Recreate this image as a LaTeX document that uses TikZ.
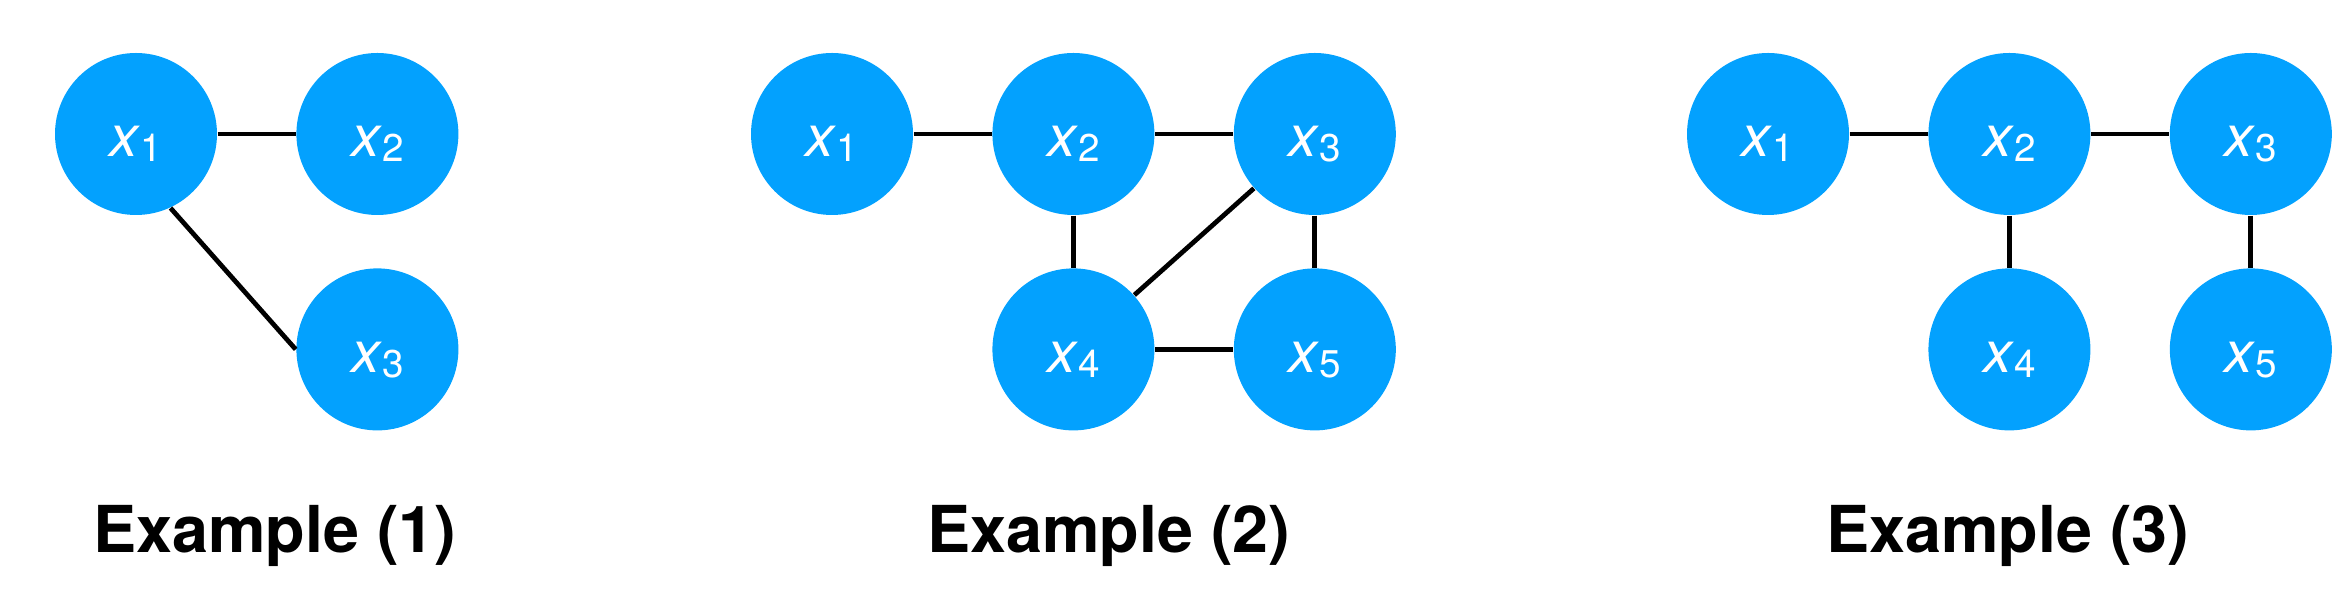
\documentclass[tikz,border=0pt]{standalone}
\usepackage{fontspec}
\setmainfont{TeX Gyre Heros}
\usepackage{xcolor}
\usetikzlibrary{positioning}
\definecolor{nodeblue}{RGB}{3,161,254}
\newcommand{\xvar}[1]{\textit{x}\raisebox{-0.05cm}{\fontsize{11}{13}\selectfont #1}}

\begin{document}
\begin{tikzpicture}[x=1cm,y=1cm]

        % Style definitions
        \tikzstyle{var} = [circle, fill=nodeblue, minimum size=1.62cm, inner sep=0pt, text=white, text height=0.46cm, text depth=0cm, font=\fontsize{16.5}{19}\selectfont]
        \tikzstyle{edge} = [line width=1.35pt]
        \tikzstyle{caption} = [anchor=base, font=\fontsize{18.4}{22}\selectfont\bfseries]

        \useasboundingbox (0,0) rectangle (23.42,5.98);

        % Example (1)
        \node[var] (a1) at (1.36,4.64) {\xvar{1}};
        \node[var, right=0.78cm of a1] (a2) {\xvar{2}};
        \node[var, below=0.52cm of a2] (a3) {\xvar{3}};
        \draw[edge] (a1) -- (a2);
        \draw[edge] (a1.-65) -- (a3.west);
        \node[caption] (cap1) at (2.75,0.45) {Example (1)};

        % Example (2)
        \node[var] (b1) at (8.32,4.64) {\xvar{1}};
        \node[var, right=0.78cm of b1] (b2) {\xvar{2}};
        \node[var, right=0.78cm of b2] (b3) {\xvar{3}};
        \node[var, below=0.52cm of b2] (b4) {\xvar{4}};
        \node[var, below=0.52cm of b3] (b5) {\xvar{5}};
        \draw[edge] (b1) -- (b2);
        \draw[edge] (b2) -- (b3);
        \draw[edge] (b2) -- (b4);
        \draw[edge] (b3) -- (b5);
        \draw[edge] (b4) -- (b5);
        \draw[edge] (b4) -- (b3);
        \node[caption] (cap2) at (11.09,0.45) {Example (2)};

        % Example (3)
        \node[var] (c1) at (17.68,4.64) {\xvar{1}};
        \node[var, right=0.78cm of c1] (c2) {\xvar{2}};
        \node[var, right=0.78cm of c2] (c3) {\xvar{3}};
        \node[var, below=0.52cm of c2] (c4) {\xvar{4}};
        \node[var, below=0.52cm of c3] (c5) {\xvar{5}};
        \draw[edge] (c1) -- (c2);
        \draw[edge] (c2) -- (c3);
        \draw[edge] (c2) -- (c4);
        \draw[edge] (c3) -- (c5);
        \node[caption] (cap3) at (20.08,0.45) {Example (3)};

\end{tikzpicture}
\end{document}
